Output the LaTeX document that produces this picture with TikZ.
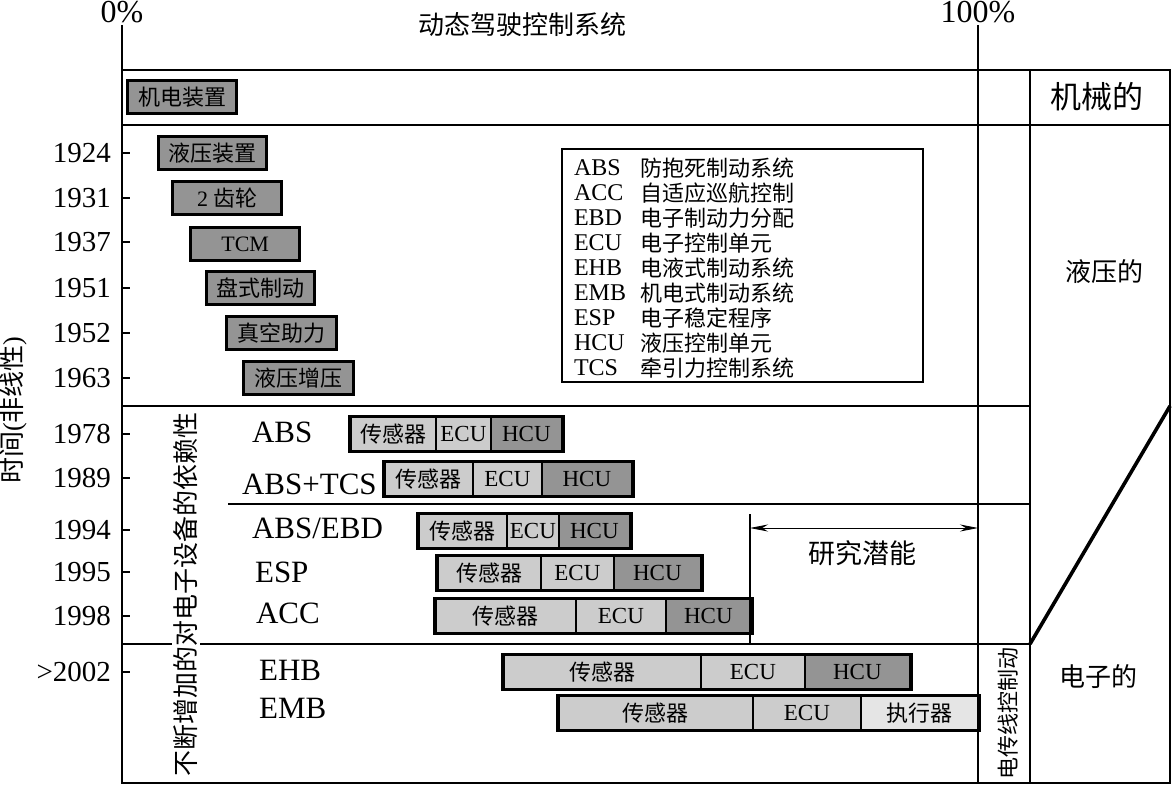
\documentclass[tikz,border=0pt]{standalone}
\usepackage{fontspec}
\setmainfont{Liberation Serif}
\newfontfamily\cjk{Noto Sans CJK SC}
\usetikzlibrary{arrows.meta,positioning}
\tikzset{
  dcframe/.style={line width=0.9pt},
  dcold/.style={draw, line width=1.7pt, fill=black!42, inner sep=0pt, minimum height=16.5pt, font=\cjk\fontsize{11}{12}\selectfont},
  dcseg/.style={draw, line width=0.9pt, inner sep=0pt, minimum height=16.5pt, font=\fontsize{11.5}{12}\selectfont},
  dcsens/.style={dcseg, fill=black!20, font=\cjk\fontsize{11}{12}\selectfont},
  dcecu/.style={dcseg, fill=black!20},
  dchcu/.style={dcseg, fill=black!42},
  dcact/.style={dcseg, fill=black!10, font=\cjk\fontsize{11}{12}\selectfont},
  dcrow/.style={draw, line width=1.7pt},
  dcyear/.style={anchor=east, font=\fontsize{14.5}{16}\selectfont},
  dcsys/.style={anchor=west, font=\fontsize{15.5}{17}\selectfont},
  dczh/.style={font=\cjk\fontsize{13}{15}\selectfont},
  dcarrow/.style={{Stealth[length=9pt,width=3.5pt]}-{Stealth[length=9pt,width=3.5pt]}, thin},
}
% one bar segment: name, left x, right x, centre y, style, text
\newcommand{\dcpart}[6]{%
  \node[#5, minimum width={(#3-#2)*0.5pt}, anchor=west] (#1) at (#2,#4) {#6};}

\begin{document}
\begin{tikzpicture}[x=0.5pt,y=-0.5pt]
  \useasboundingbox (0,0) rectangle (1172,786);

  % frame
  \draw[dcframe] (122,25) -- (122,783) -- (1170,783) -- (1170,70) -- (122,70);
  \draw[dcframe] (978,25) -- (978,783);
  \draw[dcframe] (1030,70) -- (1030,783);
  \draw[dcframe] (122,125) -- (1170,125);
  \draw[dcframe] (122,406) -- (1030,406);
  \draw[dcframe] (228,504) -- (1030,504);
  \draw[dcframe] (122,644) -- (1030,644);
  \draw[line width=1.8pt] (1030,644) -- (1170,406);

  % axis texts
  \node (p0) at (122,12) {\fontsize{16}{18}\selectfont 0\%};
  \node (p100) at (978,12) {\fontsize{16}{18}\selectfont 100\%};
  \node[font=\cjk\fontsize{13}{15}\selectfont] (title) at (522,25) {动态驾驶控制系统};
  \node[rotate=90, font=\fontsize{13}{15}\selectfont] (timeax) at (13,410)
    {{\cjk 时间}({\cjk 非线性})};
  \node[rotate=90, fill=white, inner sep=1pt, font=\cjk\fontsize{13}{15}\selectfont]
    (trend) at (186,594) {不断增加的对电子设备的依赖性};
  \node[rotate=90, font=\cjk\fontsize{11}{13}\selectfont] (bywire) at (1008,713) {电传线控制动};

  % right column
  \node[font=\cjk\fontsize{15.5}{17}\selectfont] (mech) at (1097,97) {机械的};
  \node[dczh] (hydr) at (1104,272) {液压的};
  \node[dczh] (elec) at (1098,677) {电子的};

  % years and ticks
  \foreach \yr/\yy [count=\i] in {1924/153, 1931/198, 1937/242, 1951/288, 1952/333,
      1963/378, 1978/434, 1989/478, 1994/530, 1995/572, 1998/616, >2002/672} {
    \node[dcyear] (yr\i) at (118,\yy) {\yr};
    \draw[dcframe] (122,\yy) -- (130,\yy);
  }

  % early devices
  \dcpart{mecha}{126}{235}{97}{dcold}{机电装置}
  \dcpart{hyd}{157}{265}{153}{dcold}{液压装置}
  \dcpart{gear}{171}{280}{198}{dcold}{{\rmfamily 2} 齿轮}
  \dcpart{tcm}{189}{298}{244}{dcold}{{\rmfamily TCM}}
  \dcpart{disc}{205}{313}{288}{dcold}{盘式制动}
  \dcpart{vac}{225}{335}{333}{dcold}{真空助力}
  \dcpart{boost}{242}{352}{378}{dcold}{液压增压}

  % legend
  \node[draw, line width=0.9pt, anchor=north west, minimum width=180.5pt,
    minimum height=116.5pt] (legend) at (561,148) {};
  \foreach \ab/\ablong [count=\i] in {ABS/防抱死制动系统, ACC/自适应巡航控制,
      EBD/电子制动力分配, ECU/电子控制单元, EHB/电液式制动系统, EMB/机电式制动系统,
      ESP/电子稳定程序, HCU/液压控制单元, TCS/牵引力控制系统} {
    \node[anchor=west, font=\fontsize{12}{13}\selectfont] (lga\i) at (567,143+25*\i) {\ab};
    \node[anchor=west, font=\cjk\fontsize{11}{12}\selectfont] (lgb\i) at (633,143+25*\i) {\ablong};
  }

  % electronic systems
  \node[dcsys] (sabs) at (245,432) {ABS};
  \dcpart{abs1}{350}{435}{434}{dcsens}{传感器}
  \dcpart{abs2}{435}{490}{434}{dcecu}{ECU}
  \dcpart{abs3}{490}{561}{434}{dchcu}{HCU}
  \draw[dcrow] (abs1.north west) rectangle (abs3.south east);

  \node[dcsys] (stcs) at (235,484) {ABS+TCS};
  \dcpart{tcs1}{384}{472}{479}{dcsens}{传感器}
  \dcpart{tcs2}{472}{541}{479}{dcecu}{ECU}
  \dcpart{tcs3}{541}{631}{479}{dchcu}{HCU}
  \draw[dcrow] (tcs1.north west) rectangle (tcs3.south east);

  \node[dcsys] (sebd) at (245,528) {ABS/EBD};
  \dcpart{ebd1}{418}{506}{531}{dcsens}{传感器}
  \dcpart{ebd2}{506}{558}{531}{dcecu}{ECU}
  \dcpart{ebd3}{558}{629}{531}{dchcu}{HCU}
  \draw[dcrow] (ebd1.north west) rectangle (ebd3.south east);

  \node[dcsys] (sesp) at (248,572) {ESP};
  \dcpart{esp1}{437}{540}{573}{dcsens}{传感器}
  \dcpart{esp2}{540}{613}{573}{dcecu}{ECU}
  \dcpart{esp3}{613}{700}{573}{dchcu}{HCU}
  \draw[dcrow] (esp1.north west) rectangle (esp3.south east);

  \node[dcsys] (sacc) at (249,613) {ACC};
  \dcpart{acc1}{435}{575}{616}{dcsens}{传感器}
  \dcpart{acc2}{575}{665}{616}{dcecu}{ECU}
  \dcpart{acc3}{665}{750}{616}{dchcu}{HCU}
  \draw[dcrow] (acc1.north west) rectangle (acc3.south east);

  \node[dcsys] (sehb) at (252,670) {EHB};
  \dcpart{ehb1}{503}{700}{672}{dcsens}{传感器}
  \dcpart{ehb2}{700}{804}{672}{dcecu}{ECU}
  \dcpart{ehb3}{804}{909}{672}{dchcu}{HCU}
  \draw[dcrow] (ehb1.north west) rectangle (ehb3.south east);

  \node[dcsys] (semb) at (252,708) {EMB};
  \dcpart{emb1}{558}{752}{713}{dcsens}{传感器}
  \dcpart{emb2}{752}{860}{713}{dcecu}{ECU}
  \dcpart{emb3}{860}{977}{713}{dcact}{执行器}
  \draw[dcrow] (emb1.north west) rectangle (emb3.south east);

  % research potential
  \coordinate (rpa) at (750,528);
  \coordinate (rpb) at (978,528);
  \draw[dcframe] (750,514) -- (750,644);
  \draw[dcarrow] (rpa) -- (rpb);
  \node[font=\cjk\fontsize{13.5}{15}\selectfont] (research) at (862,553) {研究潜能};
\end{tikzpicture}
\end{document}
